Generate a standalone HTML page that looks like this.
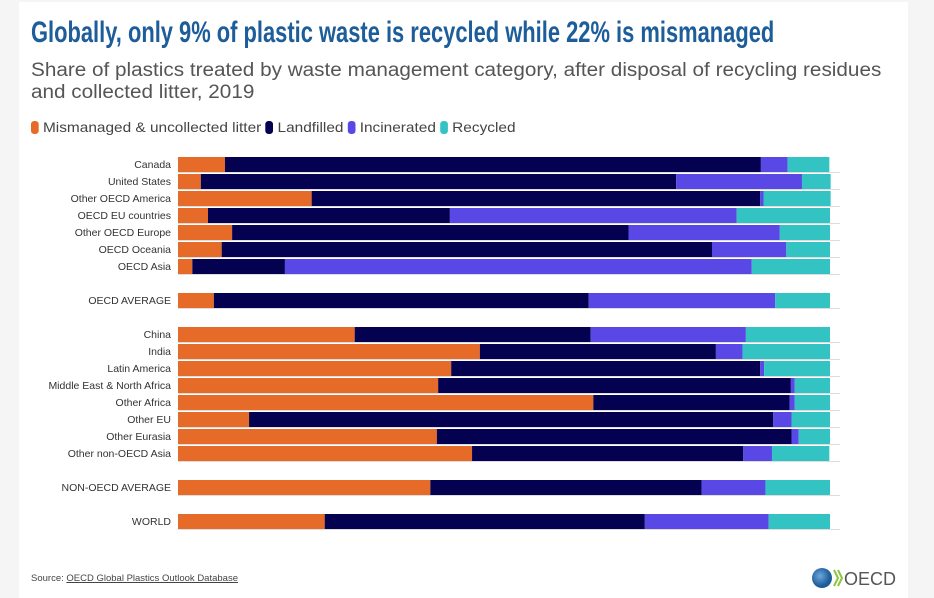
<!DOCTYPE html>
<html><head><meta charset="utf-8"><style>
body{margin:0;width:934px;height:598px;background:#f5f5f5;font-family:"Liberation Sans",sans-serif;position:relative;overflow:hidden}
#card{position:absolute;left:19px;top:2px;width:889px;height:596px;background:#fff}
.t{position:absolute;white-space:nowrap}
</style></head><body>
<div id="card"></div>
<div class="t" style="left:31px;top:16px;font-weight:bold;font-size:30px;color:#1d5d99;transform:scaleX(0.73);transform-origin:left">Globally, only 9% of plastic waste is recycled while 22% is mismanaged</div>
<div class="t" style="left:31px;top:60px;font-size:19px;line-height:22px;color:#555;transform:scaleX(1.09);transform-origin:left">Share of plastics treated by waste management category, after disposal of recycling residues<br>and collected litter, 2019</div>
<div class="t" style="left:31px;top:119px;font-size:14px;color:#444;transform:scaleX(1.1);transform-origin:left">
<span><span style="display:inline-block;width:7px;height:13px;border-radius:3px;background:#e66a28;vertical-align:-2px"></span> Mismanaged &amp; uncollected litter</span>
<span><span style="display:inline-block;width:7px;height:13px;border-radius:3px;background:#030150;vertical-align:-2px"></span> Landfilled</span>
<span><span style="display:inline-block;width:7px;height:13px;border-radius:3px;background:#5a48e6;vertical-align:-2px"></span> Incinerated</span>
<span><span style="display:inline-block;width:7px;height:13px;border-radius:3px;background:#33c3c3;vertical-align:-2px"></span> Recycled</span>
</div>
<svg id="chart" width="934" height="598" style="position:absolute;left:0;top:0"></svg>
<div class="t" style="left:31px;top:573px;font-size:9.5px;color:#444">Source: <span style="text-decoration:underline">OECD Global Plastics Outlook Database</span></div>
<div class="t" style="left:811px;top:567px;height:22px">
<svg width="90" height="22"><defs><radialGradient id="g" cx="0.4" cy="0.4"><stop offset="0" stop-color="#6fa8dc"/><stop offset="1" stop-color="#1d5d99"/></radialGradient></defs><circle cx="11" cy="11" r="10" fill="url(#g)"/><path d="M23 3 L27 11 L23 19 M27 3 L31 11 L27 19" stroke="#8cc63f" stroke-width="2" fill="none"/><text x="33" y="18" font-family="Liberation Sans" font-size="18" fill="#555">OECD</text></svg></div>
<script>
const categories=["Canada","United States","Other OECD America","OECD EU countries","Other OECD Europe","OECD Oceania","OECD Asia","OECD AVERAGE","China","India","Latin America","Middle East & North Africa","Other Africa","Other EU","Other Eurasia","Other non-OECD Asia","NON-OECD AVERAGE","WORLD"];
const rowSlots=[0,1,2,3,4,5,6,8,10,11,12,13,14,15,16,17,19,21];
const mismanaged=[7.2,3.5,20.5,4.6,8.3,6.7,2.2,5.5,27.1,46.3,41.9,39.9,63.7,10.9,39.7,45.1,38.7,22.5];
const landfilled=[82.2,72.9,68.8,37.1,60.8,75.2,14.2,57.5,36.2,36.2,47.4,54.1,30.1,80.4,54.4,41.6,41.6,49.1];
const incinerated=[4.1,19.3,0.5,44.0,23.2,11.4,71.6,28.6,23.8,4.1,0.6,0.6,0.8,2.8,1.1,4.4,9.8,19.0];
const recycled=[6.4,4.4,10.3,14.3,7.7,6.7,12.0,8.4,12.9,13.4,10.1,5.4,5.4,5.9,4.8,8.8,9.9,9.4];
const series=[mismanaged,landfilled,incinerated,recycled];
const colors=["#e66a28","#030150","#5a48e6","#33c3c3"];
const names=["mismanaged","landfilled","incinerated","recycled"];
const X0=178,W=652,Y0=157,STEP=17,BH=15;
const x=v=>X0+v/100*W;
const y=s=>Y0+s*STEP;
const svg=document.getElementById('chart');
const NS="http://www.w3.org/2000/svg";
categories.forEach((c,i)=>{
  const yy=y(rowSlots[i]);
  const ln=document.createElementNS(NS,'line');
  
  
  ln.setAttribute('x1',X0);ln.setAttribute('x2',840);ln.setAttribute('y1',yy+BH+0.5);ln.setAttribute('y2',yy+BH+0.5);
  ln.setAttribute('stroke','#ddd');svg.appendChild(ln);
  const tx=document.createElementNS(NS,'text');
  
  
  tx.setAttribute('x',171);tx.setAttribute('y',yy+11);tx.setAttribute('text-anchor','end');
  tx.setAttribute('font-size','10.5');tx.setAttribute('fill','#333');tx.setAttribute('font-family','Liberation Sans, sans-serif');
  tx.textContent=c;svg.appendChild(tx);
  let acc=0;
  series.forEach((s,k)=>{
    const r=document.createElementNS(NS,'rect');
    
    
    r.setAttribute('x',x(acc));r.setAttribute('width',Math.max(0,x(acc+s[i])-x(acc)));
    r.setAttribute('y',yy);r.setAttribute('height',BH);r.setAttribute('fill',colors[k]);
    svg.appendChild(r);acc+=s[i];
  });
});
</script>
</body></html>
